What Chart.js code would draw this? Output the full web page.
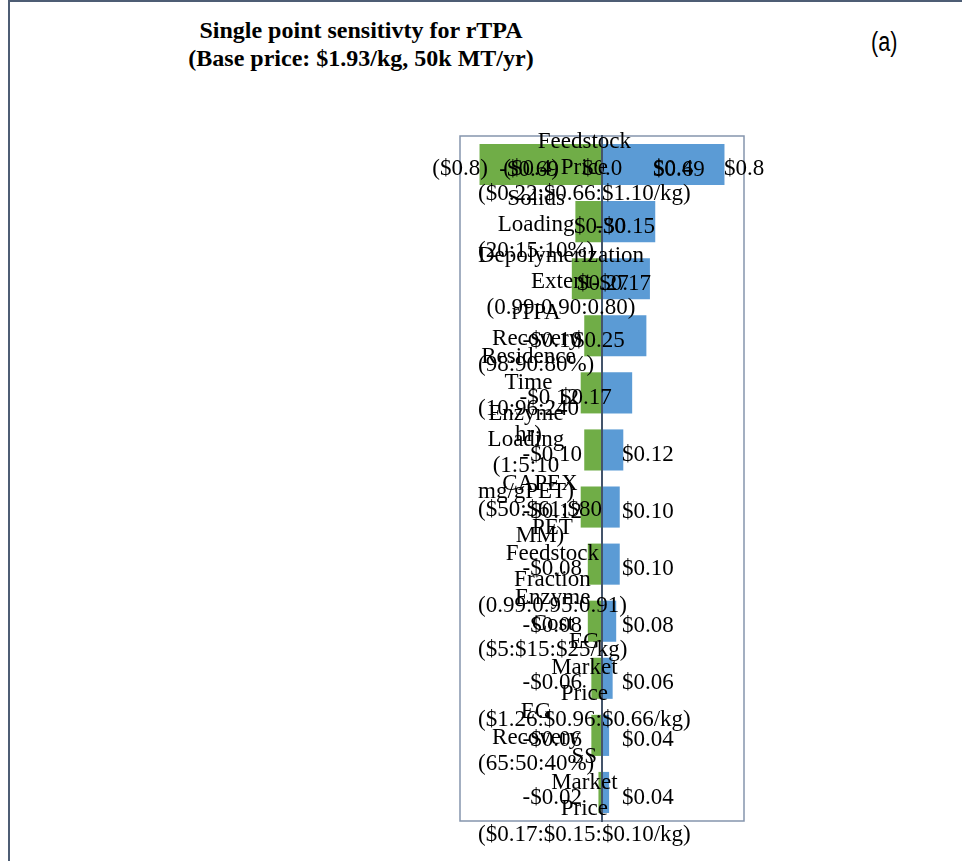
<!DOCTYPE html>
<html>
<head>
<meta charset="utf-8">
<script src="https://cdn.jsdelivr.net/npm/chart.js@4.4.1/dist/chart.umd.min.js"></script>
<style>
  html, body { margin: 0; padding: 0; background: #fff; }
  body { width: 962px; height: 861px; position: relative; overflow: hidden; }
  #frame { position: absolute; left: 8px; top: 0; width: 960px; height: 861px;
           border-top: 2px solid #4d5d74; border-left: 2px solid #4d5d74; box-sizing: border-box; }
  #title { position: absolute; left: 111px; width: 500px; top: 16px; text-align: center;
           font: bold 24px "Liberation Serif", "Times New Roman", serif; line-height: 28px; color: #000; }
  #tag { position: absolute; left: 871px; top: 27px; color: #000; line-height: 32px;
         font: 27px "Liberation Sans", sans-serif; transform: scaleX(0.8); transform-origin: left top; }
  canvas { position: absolute; left: 0; top: 0; }
</style>
</head>
<body>
<div id="frame"></div>
<div id="title">Single point sensitivty for rTPA<br>(Base price: $1.93/kg, 50k MT/yr)</div>
<div id="tag">(a)</div>
<canvas id="c" width="962" height="861"></canvas>
<script>
// Factors varied one at a time (low : base : high)
const factors = [
  ["Feedstock", "Price", "($0.22:$0.66:$1.10/kg)"],
  ["Solids", "Loading", "(20:15:10%)"],
  ["Depolymerization", "Extent", "(0.99:0.90:0.80)"],
  ["rTPA", "Recovery", "(98:90:80%)"],
  ["Residence", "Time", "(10:96:240", "hr)"],
  ["Enzyme", "Loading", "(1:5:10", "mg/gPET)"],
  ["CAPEX", "($50:$61:$80", "MM)"],
  ["PET", "Feedstock", "Fraction", "(0.99:0.95:0.91)"],
  ["Enzyme", "Cost", "($5:$15:$25/kg)"],
  ["EG", "Market", "Price", "($1.26:$0.96:$0.66/kg)"],
  ["EG", "Recovery", "(65:50:40%)"],
  ["SS", "Market", "Price", "($0.17:$0.15:$0.10/kg)"]
];

// Change in rTPA price ($/kg)
const lowCase  = [-0.69, -0.15, -0.17, -0.10, -0.12, -0.10, -0.12, -0.08, -0.08, -0.06, -0.06, -0.02];
const highCase = [ 0.69,  0.30,  0.27,  0.25,  0.17,  0.12,  0.10,  0.10,  0.08,  0.06,  0.04,  0.04];

const axisTicks = [-0.8, -0.4, 0, 0.4, 0.8];

// Value-label placement along the $ axis: right edge of each low label, left edge of each high label
const lowLabelRight = [-0.244, 0.298, 0.276, -0.113, -0.130, -0.113, -0.113, -0.113, -0.113, -0.113, -0.113, -0.113];
const highLabelLeft = [ 0.287, -0.158, -0.141, -0.163, -0.237, 0.113, 0.113, 0.113, 0.113, 0.113, 0.113, 0.113];

const serif = '"Liberation Serif", "Times New Roman", serif';
const money = v => (v < 0 ? '-' : '') + '$' + Math.abs(v).toFixed(2);
const axisMoney = v => Math.abs(v) < 1e-9 ? '$0.0' : (v < 0 ? '($' + Math.abs(v).toFixed(1) + ')' : '$' + v.toFixed(1));

// Border round the plot area
const plotFrame = {
  id: 'plotFrame',
  beforeDatasetsDraw(chart) {
    const { ctx, chartArea: a } = chart;
    ctx.save();
    ctx.strokeStyle = '#8595ad';
    ctx.lineWidth = 1.5;
    ctx.strokeRect(a.left, a.top, a.right - a.left, a.bottom - a.top);
    ctx.restore();
  }
};

// Wrapped factor names: each block starts at the same left edge, lines centred in the block
const factorLabels = {
  id: 'factorLabels',
  afterDraw(chart) {
    const { ctx, chartArea, scales: { y } } = chart;
    ctx.save();
    ctx.font = '23px ' + serif;
    ctx.fillStyle = '#000';
    ctx.textAlign = 'center';
    ctx.textBaseline = 'middle';
    const left = chartArea.left + 18, lh = 26;
    factors.forEach((lines, i) => {
      const w = Math.max(...lines.map(l => ctx.measureText(l).width));
      const cy = y.getPixelForValue(i) + 3;
      lines.forEach((l, k) => ctx.fillText(l, left + w / 2, cy + (k - (lines.length - 1) / 2) * lh));
    });
    ctx.restore();
  }
};

// Dollar labels for both ends of every bar
const valueLabels = {
  id: 'valueLabels',
  afterDraw(chart) {
    const { ctx, scales: { x, y } } = chart;
    ctx.save();
    ctx.font = '23px ' + serif;
    ctx.fillStyle = '#000';
    ctx.textBaseline = 'middle';
    lowCase.forEach((v, i) => {
      const cy = y.getPixelForValue(i) + 5;
      ctx.textAlign = 'right';
      ctx.fillText(money(v), x.getPixelForValue(lowLabelRight[i]), cy);
      ctx.textAlign = 'left';
      ctx.fillText(money(highCase[i]), x.getPixelForValue(highLabelLeft[i]), cy);
    });
    ctx.restore();
  }
};

new Chart(document.getElementById('c'), {
  type: 'bar',
  data: {
    labels: factors,
    datasets: [
      { label: 'Low', data: lowCase, backgroundColor: '#70ad47', borderWidth: 0 },
      { label: 'High', data: highCase, backgroundColor: '#5b9bd5', borderWidth: 0 }
    ]
  },
  options: {
    indexAxis: 'y',
    responsive: false,
    animation: false,
    layout: { padding: { left: 460, right: 218, top: 136, bottom: 40 } },
    datasets: { bar: { categoryPercentage: 1, barPercentage: 0.72 } },
    plugins: { legend: { display: false }, title: { display: false }, tooltip: { enabled: false } },
    scales: {
      x: {
        type: 'linear', min: -0.8, max: 0.8, stacked: true,
        position: { y: 0 },
        afterBuildTicks: s => { s.ticks = axisTicks.map(v => ({ value: v })); },
        grid: { display: false, drawTicks: false },
        border: { display: false },
        ticks: {
          z: 1, maxRotation: 0, autoSkip: false, padding: -9, color: '#000',
          font: { family: serif, size: 23 },
          callback: v => axisMoney(v)
        }
      },
      y: {
        type: 'category', stacked: true,
        position: { x: 0 },
        grid: { display: false, drawTicks: false },
        ticks: { display: false },
        border: { display: true, color: '#44546a', width: 2, z: 1 }
      }
    }
  },
  plugins: [plotFrame, factorLabels, valueLabels]
});
</script>
</body>
</html>
